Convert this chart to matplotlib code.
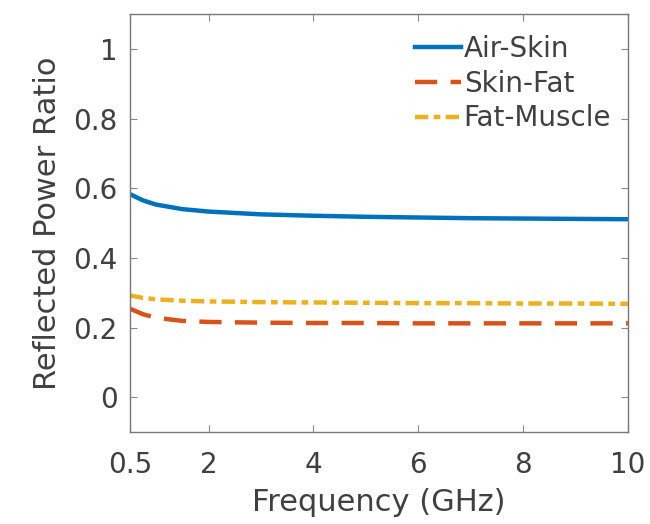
import numpy as np
import matplotlib
matplotlib.use('Agg')
import matplotlib.pyplot as plt

# Values
freq = [0.5, 0.75, 1.0, 1.5, 2.0, 3.0, 4.0, 5.0, 6.0, 7.0, 8.0, 9.0, 10.0]
air_skin = [0.583, 0.565, 0.553, 0.540, 0.533, 0.525, 0.521, 0.518, 0.516, 0.514, 0.513, 0.512, 0.511]
skin_fat = [0.254, 0.238, 0.228, 0.219, 0.216, 0.214, 0.213, 0.213, 0.212, 0.212, 0.212, 0.212, 0.212]
fat_muscle = [0.292, 0.285, 0.281, 0.277, 0.275, 0.273, 0.272, 0.271, 0.270, 0.270, 0.269, 0.269, 0.268]

x_ticks = [0.5, 2, 4, 6, 8, 10]
x_labels = ['0.5', '2', '4', '6', '8', '10']
y_ticks = [0, 0.2, 0.4, 0.6, 0.8, 1.0]
y_labels = ['0', '0.2', '0.4', '0.6', '0.8', '1']

text_col = '#404040'
plt.rcParams['font.family'] = 'DejaVu Sans'

fig = plt.figure(figsize=(6.5, 5.24), dpi=100)
ax = fig.add_axes([0.2, 0.1756, 0.766, 0.7974])

ax.plot(freq, air_skin, color='#0072BD', lw=3.2, label='Air-Skin')
ax.plot(freq, skin_fat, color='#D95319', lw=3.2, ls=(0, (5, 3)), label='Skin-Fat')
ax.plot(freq, fat_muscle, color='#EDB120', lw=3.2, ls=(0, (3, 1.2, 1.5, 1.2)), label='Fat-Muscle')

ax.set_xlim(0.5, 10)
ax.set_ylim(-0.1, 1.1)
ax.set_xticks(x_ticks)
ax.set_xticklabels(x_labels)
ax.set_yticks(y_ticks)
ax.set_yticklabels(y_labels)
ax.tick_params(direction='in', top=True, right=True, length=5, width=0.8,
               colors='#888888', labelcolor=text_col, labelsize=20, pad=9)
ax.tick_params(axis='x', pad=14)
for s in ax.spines.values():
    s.set_color('#777777')
    s.set_linewidth(1)

ax.set_xlabel('Frequency (GHz)', fontsize=22, color=text_col, labelpad=6)
ax.set_ylabel('Reflected Power Ratio', fontsize=22, color=text_col, labelpad=8)

leg = ax.legend(loc='upper right', bbox_to_anchor=(1.0, 0.99), frameon=False,
                fontsize=20, handlelength=1.65, handletextpad=0.1,
                labelspacing=0.24, borderaxespad=0.2)
for t in leg.get_texts():
    t.set_color(text_col)

fig.savefig('out.png', dpi=100)
